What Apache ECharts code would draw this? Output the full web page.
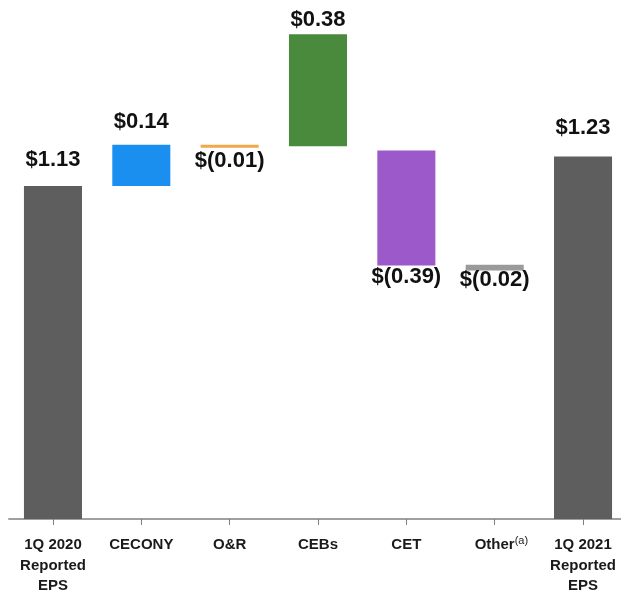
<!DOCTYPE html>
<html>
<head>
<meta charset="utf-8">
<script src="https://cdn.jsdelivr.net/npm/echarts@6/dist/echarts.min.js"></script>
<style>
  html, body { margin: 0; padding: 0; background: #ffffff; }
  #chart { width: 621px; height: 596px; }
</style>
</head>
<body>
<div id="chart"></div>
<script>
// ---- data ----
const categories = ['1Q 2020\nReported\nEPS', 'CECONY', 'O&R', 'CEBs', 'CET', 'Other', '1Q 2021\nReported\nEPS'];
const changes = [1.13, 0.14, -0.01, 0.38, -0.39, -0.02, 1.23];
// bottom of each drawn bar as it sits in the picture
const bases = [0, 1.13, 1.26, 1.265, 0.86, 0.843, 0];
const valueLabels = ['$1.13', '$0.14', '$(0.01)', '$0.38', '$(0.39)', '$(0.02)', '$1.23'];

// ---- styling ----
const barColors = ['#5e5e5e', '#1a8ff0', '#f0a848', '#4a8a3c', '#9b59c9', '#9a9a9a', '#5e5e5e'];
const labelDistances = [15, 12, 2, 3, 0, -2, 18];

const visibleData = changes.map((v, i) => ({
  value: Math.abs(v),
  itemStyle: { color: barColors[i] },
  label: {
    show: true,
    position: v < 0 ? 'bottom' : 'top',
    distance: labelDistances[i],
    formatter: valueLabels[i]
  }
}));

const chart = echarts.init(document.getElementById('chart'), null, { renderer: 'canvas' });
chart.setOption({
  animation: false,
  backgroundColor: '#ffffff',
  grid: { left: 8.8, width: 618.4, top: 18, bottom: 77, containLabel: false, outerBoundsMode: 'none' },
  xAxis: {
    type: 'category',
    data: categories,
    axisLine: { show: true, lineStyle: { color: '#808080', width: 1.5 } },
    axisTick: { show: true, alignWithLabel: true, length: 6, lineStyle: { color: '#808080', width: 1 } },
    axisLabel: {
      interval: 0,
      margin: 16,
      color: '#1a1a1a',
      fontFamily: 'Liberation Sans, Arial, sans-serif',
      fontWeight: 'bold',
      fontSize: 15,
      lineHeight: 20.5,
      formatter: function (val) {
        if (val === 'Other') return '{sp|(a)}Other{sup|(a)}';
        return val;
      },
      rich: {
        sup: { fontSize: 11, fontWeight: 'normal', color: '#1a1a1a', verticalAlign: 'top', lineHeight: 20.5, fontFamily: 'Liberation Sans, Arial, sans-serif' },
        sp: { fontSize: 11, fontWeight: 'normal', color: 'rgba(0,0,0,0)', verticalAlign: 'top', lineHeight: 20.5, fontFamily: 'Liberation Sans, Arial, sans-serif' }
      }
    }
  },
  yAxis: {
    type: 'value',
    min: 0,
    max: 1.7,
    show: false,
    splitLine: { show: false }
  },
  series: [
    {
      type: 'bar',
      stack: 'wf',
      barWidth: '65.7%',
      itemStyle: { color: 'rgba(0,0,0,0)' },
      emphasis: { disabled: true },
      silent: true,
      data: bases
    },
    {
      type: 'bar',
      stack: 'wf',
      barWidth: '65.7%',
      label: {
        color: '#111111',
        fontFamily: 'Liberation Sans, Arial, sans-serif',
        fontWeight: 'bold',
        fontSize: 22
      },
      data: visibleData
    }
  ]
});
</script>
</body>
</html>
